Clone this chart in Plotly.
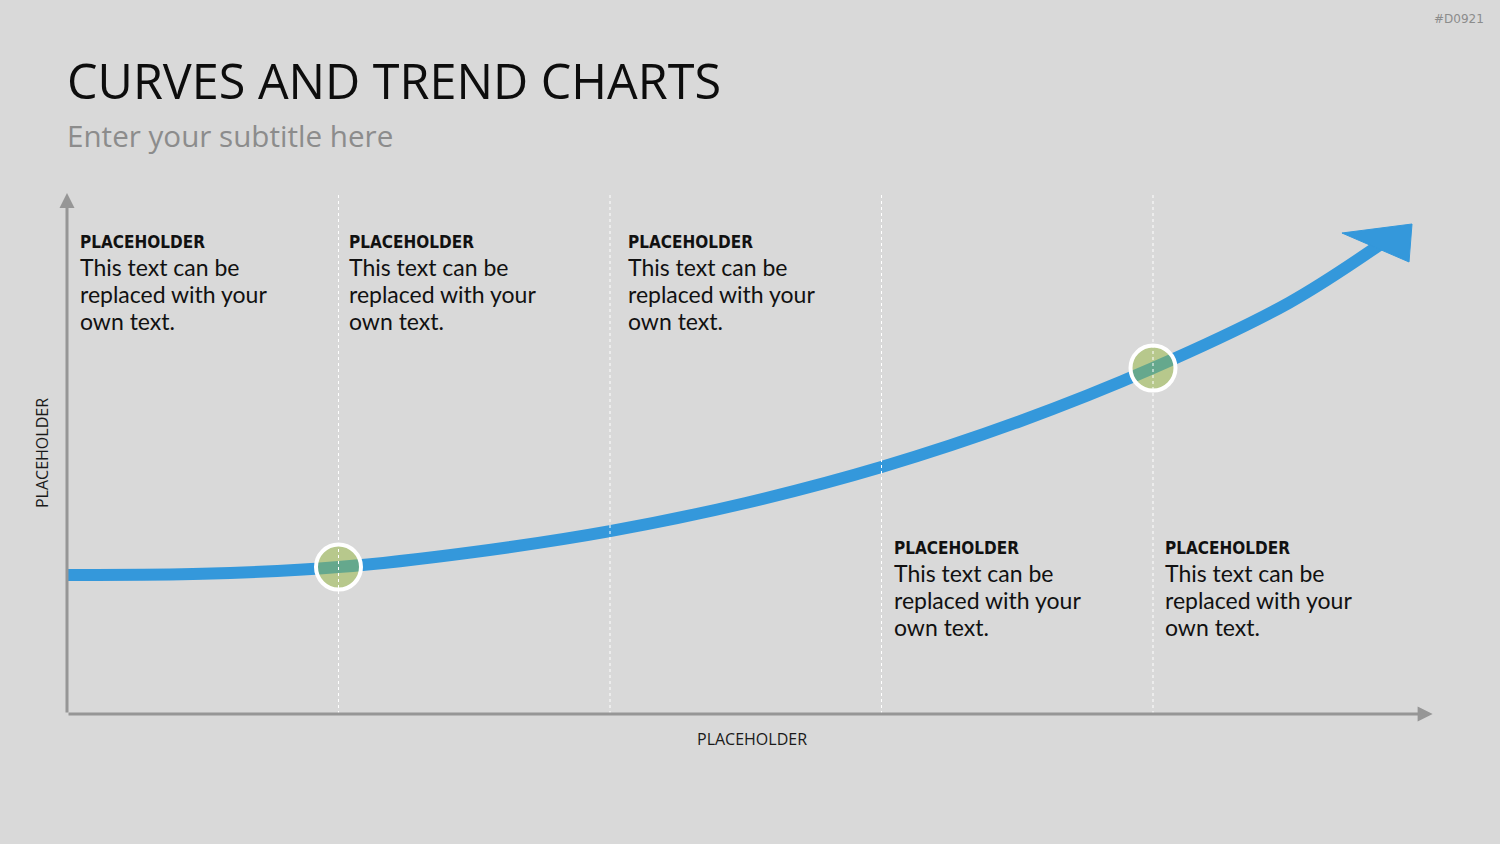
import plotly.graph_objects as go

# ---- data ----
curve_x = [0, 0.5, 1, 1.5, 2, 2.5, 3, 3.5, 4, 4.5, 4.85]
curve_y = [26.7, 26.9, 28.2, 31.1, 35.1, 40.5, 47.4, 56.0, 66.4, 78.9, 90.6]
arrowhead_x = [4.954, 4.696, 4.943]
arrowhead_y = [94.05, 92.32, 86.76]
milestone_x = [1, 4]
milestone_y = [28.2, 66.4]
grid_x = [1, 2, 3, 4]
y_top = 100
x_end = 5.03

block_x = [0.040, 1.031, 2.059, 3.038, 4.036]
block_y = [90.6, 90.6, 90.6, 31.9, 31.9]
block_head = ["PLACEHOLDER"] * 5
block_lines = [["This text can be", "replaced with your", "own text."]] * 5
line_gap = 5.18   # data units between lines
head_gap = 4.8

title = "CURVES AND TREND CHARTS"
subtitle = "Enter your subtitle here"
x_title = "PLACEHOLDER"
y_title = "PLACEHOLDER"
tag = "#D0921"

BG = "#D9D9D9"
BLUE = "#3498DB"
AXIS = "#969696"

X0, XS = 67, 271.5     # pixel origin / pixels per unit
Y0, YS = 714, 5.21

fig = go.Figure()

fig.add_trace(go.Scatter(x=curve_x, y=curve_y, mode="lines",
                         line=dict(color=BLUE, width=12, shape="spline"),
                         hoverinfo="skip"))
fig.add_trace(go.Scatter(x=arrowhead_x + arrowhead_x[:1], y=arrowhead_y + arrowhead_y[:1],
                         mode="lines", fill="toself", fillcolor=BLUE,
                         line=dict(color=BLUE, width=1), hoverinfo="skip"))
fig.add_trace(go.Scatter(x=milestone_x, y=milestone_y, mode="markers",
                         marker=dict(size=45, color="rgba(149,183,63,0.5)",
                                     line=dict(color="white", width=4)),
                         hoverinfo="skip"))

for gx in grid_x:
    fig.add_shape(type="line", x0=gx, x1=gx, y0=0, y1=y_top, xref="x", yref="y",
                  line=dict(color="white", width=1, dash="dot"), layer="above")

# axes with arrowheads
fig.add_annotation(x=x_end, y=0, ax=0, ay=0, xref="x", yref="y", axref="x", ayref="y",
                   text="", showarrow=True, arrowhead=2, arrowsize=1, arrowwidth=3,
                   arrowcolor=AXIS)
fig.add_annotation(x=0, y=y_top, ax=0, ay=0, xref="x", yref="y", axref="x", ayref="y",
                   text="", showarrow=True, arrowhead=2, arrowsize=1, arrowwidth=3,
                   arrowcolor=AXIS)

for bx, by, h, lines in zip(block_x, block_y, block_head, block_lines):
    fig.add_annotation(x=bx, y=by, xref="x", yref="y", xanchor="left", yanchor="middle",
                       showarrow=False, align="left", text=f"<b>{h}</b>",
                       font=dict(family="DejaVu Sans Condensed", size=17, color="#111111"))
    for i, ln in enumerate(lines):
        fig.add_annotation(x=bx, y=by - head_gap - i * line_gap, xref="x", yref="y",
                           xanchor="left", yanchor="middle", showarrow=False,
                           align="left", text=ln,
                           font=dict(family="Lato", size=23, color="#111111"))

fig.add_annotation(x=65 / 1500, y=1 - 80 / 844, xref="paper", yref="paper",
                   xanchor="left", yanchor="middle", showarrow=False, text=title,
                   font=dict(family="Open Sans", size=48.5, color="#0D0D0D"))
fig.add_annotation(x=65 / 1500, y=1 - 135.5 / 844, xref="paper", yref="paper",
                   xanchor="left", yanchor="middle", showarrow=False, text=subtitle,
                   font=dict(family="Open Sans", size=29.6, color="#8C8C8C"))
fig.add_annotation(x=752 / 1500, y=1 - 739 / 844, xref="paper", yref="paper",
                   xanchor="center", yanchor="middle", showarrow=False, text=x_title,
                   font=dict(family="Open Sans", size=16, color="#1A1A1A"))
fig.add_annotation(x=42 / 1500, y=1 - 453 / 844, xref="paper", yref="paper",
                   xanchor="center", yanchor="middle", showarrow=False, text=y_title,
                   textangle=-90,
                   font=dict(family="Open Sans", size=16, color="#1A1A1A"))
fig.add_annotation(x=1486 / 1500, y=1 - 19 / 844, xref="paper", yref="paper",
                   xanchor="right", yanchor="middle", showarrow=False, text=tag,
                   font=dict(family="DejaVu Sans", size=12, color="#8C8C8C"))

fig.update_layout(
    width=1500, height=844,
    margin=dict(l=0, r=0, t=0, b=0),
    paper_bgcolor=BG, plot_bgcolor=BG,
    showlegend=False,
    xaxis=dict(range=[-X0 / XS, (1500 - X0) / XS], visible=False, fixedrange=True),
    yaxis=dict(range=[-(844 - Y0) / YS, Y0 / YS], visible=False, fixedrange=True),
)

fig.write_html("out.html")
